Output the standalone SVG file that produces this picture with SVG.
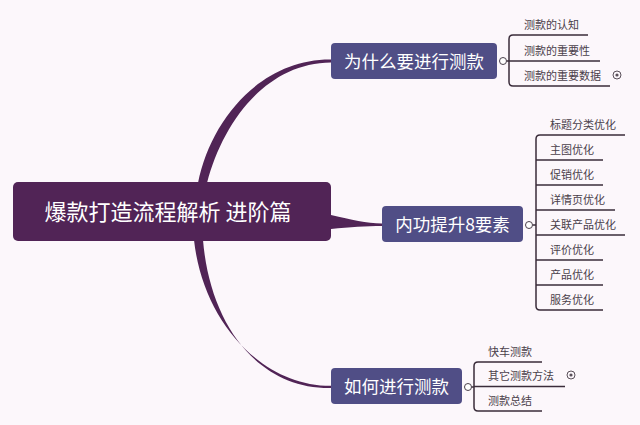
<svg xmlns="http://www.w3.org/2000/svg" width="640" height="425" viewBox="0 0 640 425">
<style>
.bg{fill:#fcf7fb}
.central{fill:#512456}
.main{fill:#504e86}
.ct{fill:#ffffff;font-family:"Noto Sans CJK SC","Liberation Sans",sans-serif;text-anchor:middle}
.sub{fill:#4a404a;font-family:"Noto Sans CJK SC","Liberation Sans",sans-serif;font-size:11px}
.ln{fill:none;stroke:#3a2c3a;stroke-width:1.5}
.br{fill:#512456}
.knob{fill:#ffffff;stroke:#4a404a;stroke-width:1}
.exp{fill:none;stroke:#5a505a;stroke-width:1}
.dot{fill:#5a505a}
</style>
<rect class="bg" x="0" y="0" width="640" height="425"/>
<g id="connectors">
<path class="br" d="M198,183 C211,118 262,59 331,59.5 L331,62.5 C266,63 223,122 207,183 Z"/>
<path class="br" d="M194,240 C203,322 262,386 331,385.8 L331,388 C258,389 210,325 203,240 Z"/>
<path class="br" d="M331,215 C352,220 366,223 382,223.5 L382,226 C366,226 350,227 331,229 Z"/>
<line class="ln" x1="506.5" y1="61" x2="509" y2="61"/>
<path class="ln" d="M588,35 H513 Q509,35 509,39 V82 Q509,86 513,86 H610"/>
<line class="ln" x1="509" y1="61" x2="600" y2="61"/>
<line class="ln" x1="532.5" y1="225" x2="536" y2="225"/>
<path class="ln" d="M625,135 H540 Q536,135 536,139 V306 Q536,310 540,310 H603"/>
<line class="ln" x1="536" y1="160" x2="603" y2="160"/>
<line class="ln" x1="536" y1="185" x2="603" y2="185"/>
<line class="ln" x1="536" y1="210" x2="615" y2="210"/>
<line class="ln" x1="536" y1="235" x2="625" y2="235"/>
<line class="ln" x1="536" y1="260" x2="603" y2="260"/>
<line class="ln" x1="536" y1="285" x2="603" y2="285"/>
<line class="ln" x1="471.5" y1="387" x2="474" y2="387"/>
<path class="ln" d="M542,362 H478 Q474,362 474,366 V407 Q474,411 478,411 H542"/>
<line class="ln" x1="474" y1="386.5" x2="565" y2="386.5"/>
</g>
<g id="central">
<rect class="central" x="13" y="182" width="318" height="59" rx="5"/>
<text class="ct" x="168" y="220" font-size="22">爆款打造流程解析 进阶篇</text>
</g>
<g id="node-why">
<rect class="main" x="331" y="43" width="166" height="36" rx="4"/>
<text class="ct" x="414" y="67.5" font-size="17.5">为什么要进行测款</text>
<circle class="knob" cx="503" cy="61" r="3.5"/>
</g>
<g id="node-why-1"><text class="sub" x="524" y="29">测款的认知</text></g>
<g id="node-why-2"><text class="sub" x="524" y="55">测款的重要性</text></g>
<g id="node-why-3"><text class="sub" x="524" y="80">测款的重要数据</text>
<circle class="exp" cx="617" cy="75" r="4"/><circle class="dot" cx="617" cy="75" r="1.6"/></g>
<g id="node-eight">
<rect class="main" x="382" y="206" width="141" height="36" rx="4"/>
<text class="ct" x="452.5" y="230.5" font-size="17.5">内功提升8要素</text>
<circle class="knob" cx="529" cy="225" r="3.5"/>
</g>
<g id="node-eight-1"><text class="sub" x="550" y="129">标题分类优化</text></g>
<g id="node-eight-2"><text class="sub" x="550" y="154">主图优化</text></g>
<g id="node-eight-3"><text class="sub" x="550" y="179">促销优化</text></g>
<g id="node-eight-4"><text class="sub" x="550" y="204">详情页优化</text></g>
<g id="node-eight-5"><text class="sub" x="550" y="229">关联产品优化</text></g>
<g id="node-eight-6"><text class="sub" x="550" y="254">评价优化</text></g>
<g id="node-eight-7"><text class="sub" x="550" y="279">产品优化</text></g>
<g id="node-eight-8"><text class="sub" x="550" y="304">服务优化</text></g>
<g id="node-how">
<rect class="main" x="331" y="368" width="131" height="36" rx="4"/>
<text class="ct" x="396.5" y="392.5" font-size="17.5">如何进行测款</text>
<circle class="knob" cx="468" cy="387" r="3.5"/>
</g>
<g id="node-how-1"><text class="sub" x="488" y="356">快车测款</text></g>
<g id="node-how-2"><text class="sub" x="488" y="380">其它测款方法</text>
<circle class="exp" cx="571" cy="375" r="4"/><circle class="dot" cx="571" cy="375" r="1.6"/></g>
<g id="node-how-3"><text class="sub" x="488" y="405">测款总结</text></g>
</svg>
